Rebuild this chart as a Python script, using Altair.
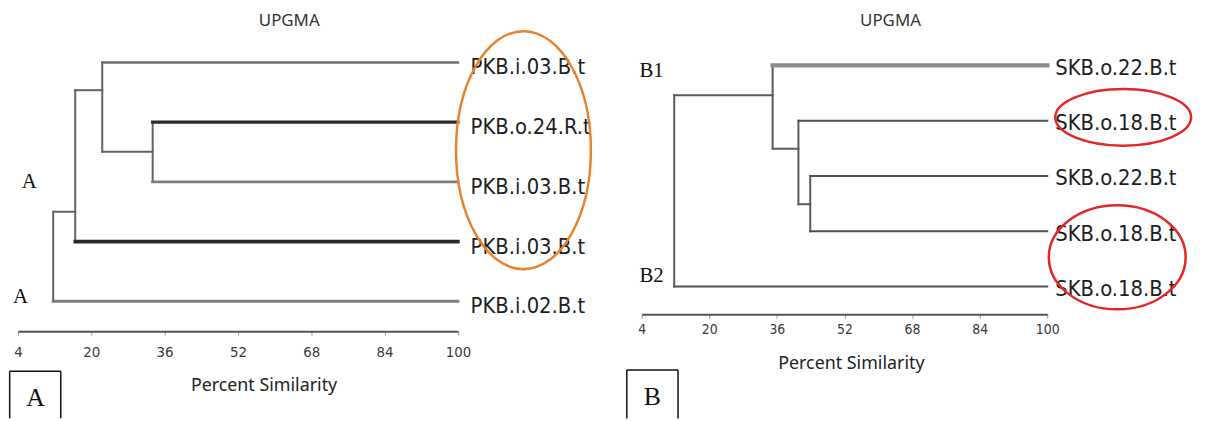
import altair as alt
import pandas as pd

# ---------------- data ----------------
TICKS = [4, 20, 36, 52, 68, 84, 100]
LEAF_POS = [1, 2, 3, 4, 5]

# Panel A (UPGMA, PKB isolates)
A_LEAVES = ["PKB.i.03.B.t", "PKB.o.24.R.t", "PKB.i.03.B.t", "PKB.i.03.B.t", "PKB.i.02.B.t"]
A_LEAF_JOIN = [22.4, 33.4, 33.4, 16.5, 11.7]
A_NODE_X = [33.4, 22.4, 16.5, 11.7]
A_NODE_TOP = [2.0, 1.0, 1.465, 3.5]
A_NODE_BOTTOM = [3.0, 2.494, 4.0, 5.0]
A_NODE_PARENT = [1, 2, 3, -1]
A_LINK_Y = [2.494, 1.465, 3.5]
A_SIDE_TEXT = ["A", "A"]
A_SIDE_X = [6.47, 4.58]
A_SIDE_Y = [2.995, 4.92]

# Panel B (UPGMA, SKB isolates)
B_LEAVES = ["SKB.o.22.B.t", "SKB.o.18.B.t", "SKB.o.22.B.t", "SKB.o.18.B.t", "SKB.o.18.B.t"]
B_LEAF_JOIN = [35.0, 41.1, 43.9, 43.9, 11.7]
B_NODE_X = [43.9, 41.1, 35.0, 11.7]
B_NODE_TOP = [3.0, 2.0, 1.0, 1.54]
B_NODE_BOTTOM = [4.0, 3.51, 2.507, 5.0]
B_NODE_PARENT = [1, 2, 3, -1]
B_LINK_Y = [3.51, 2.507, 1.54]
B_SIDE_TEXT = ["B1", "B2"]
B_SIDE_X = [6.35, 6.35]
B_SIDE_Y = [1.095, 4.81]

NARROW = "DejaVu Sans Condensed, Liberation Sans, sans-serif"
SERIF = "Liberation Serif, DejaVu Serif, serif"
SANS = "Noto Sans, Open Sans, sans-serif"


def build_segments(leaf_join, node_x, node_top, node_bot, parent, link_y):
    rows = []
    for i, (j, p) in enumerate(zip(leaf_join, LEAF_POS)):
        rows.append(dict(seg=f"leaf{i}", x=j, x2=TICKS[-1], y=p, y2=p))
    for i, (nx, t, b) in enumerate(zip(node_x, node_top, node_bot)):
        rows.append(dict(seg=f"node{i}", x=nx, x2=nx, y=t, y2=b))
    for i, ly in enumerate(link_y):
        px = node_x[parent[i]]
        rows.append(dict(seg=f"link{i}", x=px, x2=node_x[i], y=ly, y2=ly))
    return pd.DataFrame(rows)


def ellipse_path(a):
    k = 0.5523
    ka = k * a
    return (f"M 0 -1 C {ka:.4f} -1 {a:.4f} -{k} {a:.4f} 0 "
            f"C {a:.4f} {k} {ka:.4f} 1 0 1 "
            f"C -{ka:.4f} 1 -{a:.4f} {k} -{a:.4f} 0 "
            f"C -{a:.4f} -{k} -{ka:.4f} -1 0 -1 Z")


def make_panel(cfg):
    xs = alt.Scale(domain=[TICKS[0], TICKS[-1]], nice=False, zero=False)
    ys = alt.Scale(domain=cfg["ydomain"], reverse=True, nice=False, zero=False)
    axis = alt.Axis(values=TICKS, format="d", labelFlush=False, labelOverlap=False,
                    grid=False, domainColor="#555555", domainWidth=2,
                    tickColor="#999999", tickSize=4, tickWidth=1,
                    labelFont=NARROW, labelFontSize=cfg["tick_fs"], labelColor="#3a3a3a",
                    labelPadding=cfg["label_pad"],
                    title="Percent Similarity", titleFont=SANS, titleFontSize=18,
                    titleFontWeight="normal", titleColor="#222222",
                    titleX=cfg["title_x"], titleY=cfg["title_y"],
                    titleBaseline="middle", titleAlign="center")
    X = alt.X("x:Q", scale=xs, axis=axis)
    Y = alt.Y("y:Q", scale=ys, axis=None)

    segs = cfg["segs"]
    layers = []
    for ids, color, width in cfg["styles"]:
        layers.append(
            alt.Chart(segs)
            .transform_filter(alt.FieldOneOfPredicate(field="seg", oneOf=ids))
            .mark_rule(color=color, strokeWidth=width, strokeCap="square")
            .encode(x=X, x2="x2:Q", y=Y, y2="y2:Q")
        )

    leaves = pd.DataFrame({"x": [TICKS[-1]] * len(cfg["leaves"]), "y": LEAF_POS,
                           "label": cfg["leaves"]})
    layers.append(
        alt.Chart(leaves).mark_text(align="left", baseline="middle", font=NARROW,
                                    fontSize=cfg["leaf_fs"], color="#1e1e1e",
                                    dx=cfg["leaf_dx"], dy=cfg["leaf_dy"])
        .encode(x=X, y=Y, text="label:N")
    )

    side = pd.DataFrame({"x": cfg["side_x"], "y": cfg["side_y"], "t": cfg["side_text"]})
    layers.append(
        alt.Chart(side).mark_text(align="center", baseline="middle", font=SERIF,
                                  fontSize=21, color="#111111")
        .encode(x=X, y=Y, text="t:N")
    )

    title = pd.DataFrame({"x": [cfg["upgma_x"]], "y": [cfg["upgma_y"]], "t": ["UPGMA"]})
    layers.append(
        alt.Chart(title).mark_text(align="center", baseline="middle", font=SANS,
                                   fontSize=17, color="#333333")
        .encode(x=X, y=Y, text="t:N")
    )

    # panel letter box (left, top, right sides)
    bl, br, bt, bb = cfg["box"]
    box = pd.DataFrame({"x": [bl, bl, br], "x2": [bl, br, br],
                        "y": [bt, bt, bt], "y2": [bb, bt, bb]})
    layers.append(
        alt.Chart(box).mark_rule(color="#111111", strokeWidth=1.5)
        .encode(x=X, x2="x2:Q", y=Y, y2="y2:Q")
    )
    letter = pd.DataFrame({"x": [cfg["letter_x"]], "y": [cfg["letter_y"]],
                           "t": [cfg["letter"]]})
    layers.append(
        alt.Chart(letter).mark_text(align="center", baseline="middle", font=SERIF,
                                    fontSize=26, color="#111111")
        .encode(x=X, y=Y, text="t:N")
    )

    for (ex, ey, a, size, color) in cfg["ellipses"]:
        edf = pd.DataFrame({"x": [ex], "y": [ey]})
        layers.append(
            alt.Chart(edf).mark_point(shape=ellipse_path(a), size=size, filled=False,
                                      stroke=color, strokeWidth=2.5, opacity=1)
            .encode(x=X, y=Y)
        )

    if cfg.get("top_guard") is not None:
        g = pd.DataFrame({"x": [bl], "y": [cfg["top_guard"]], "y2": [0.5]})
        layers.append(
            alt.Chart(g).mark_rule(opacity=0, strokeWidth=1)
            .encode(x=X, y=Y, y2="y2:Q")
        )

    return alt.layer(*layers).properties(width=cfg["width"], height=cfg["height"])


segs_a = build_segments(A_LEAF_JOIN, A_NODE_X, A_NODE_TOP, A_NODE_BOTTOM, A_NODE_PARENT, A_LINK_Y)
segs_b = build_segments(B_LEAF_JOIN, B_NODE_X, B_NODE_TOP, B_NODE_BOTTOM, B_NODE_PARENT, B_LINK_Y)

branch_ids = [f"node{i}" for i in range(4)] + [f"link{i}" for i in range(3)]

panel_a = make_panel(dict(
    segs=segs_a, leaves=A_LEAVES, ydomain=[0.5, 5.5], width=443.7, height=301.2,
    styles=[(branch_ids, "#626262", 2), (["leaf0"], "#6e6e6e", 2.5),
            (["leaf1"], "#2a2a2a", 3.2), (["leaf2"], "#7d7d7d", 3),
            (["leaf3"], "#2a2a2a", 3.6), (["leaf4"], "#7d7d7d", 3)],
    tick_fs=15, label_pad=9, title_x=247.7, title_y=55,
    leaf_fs=22, leaf_dx=12.8, leaf_dy=5,
    side_text=A_SIDE_TEXT, side_x=A_SIDE_X, side_y=A_SIDE_Y,
    upgma_x=63.2, upgma_y=0.303,
    box=(2.2, 13.35, 6.17, 6.958), letter="A", letter_x=7.83, letter_y=6.618,
    ellipses=[(114.3, 2.469, 68 / 120, 4 * 120 ** 2, "#E8822E")],
    top_guard=0.129,
))

panel_b = make_panel(dict(
    segs=segs_b, leaves=B_LEAVES, ydomain=[0.406, 5.5], width=409, height=284.1,
    styles=[(branch_ids, "#5a5a5a", 2), (["leaf0"], "#8c8c8c", 4.5),
            (["leaf1", "leaf2", "leaf3", "leaf4"], "#505050", 2)],
    tick_fs=14, label_pad=4, title_x=211, title_y=50,
    leaf_fs=22, leaf_dx=8, leaf_dy=2.5,
    side_text=B_SIDE_TEXT, side_x=B_SIDE_X, side_y=B_SIDE_Y,
    upgma_x=62.9, upgma_y=0.193,
    box=(0.479, 12.61, 6.507, 7.386), letter="B", letter_x=6.51, letter_y=6.995,
    ellipses=[(117.97, 1.94, 68.5 / 28.5, 4 * 28.5 ** 2, "#E32626"),
              (116.56, 4.47, 69 / 52.5, 4 * 52.5 ** 2, "#E32626")],
))

chart = (
    alt.hconcat(panel_a, panel_b, spacing=185, bounds="flush")
    .properties(padding=0, background="white")
    .configure_view(strokeOpacity=0)
)

chart.save("out.html", embed_options={"renderer": "svg", "actions": False})
